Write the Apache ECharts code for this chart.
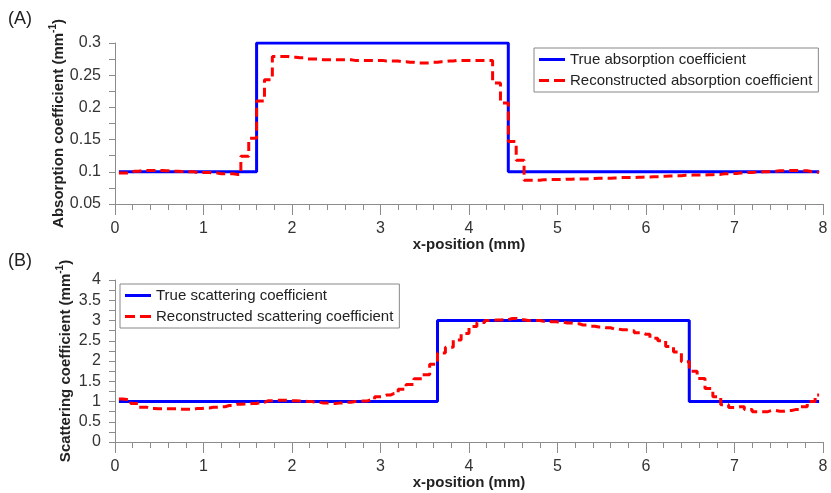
<!DOCTYPE html>
<html>
<head>
<meta charset="utf-8">
<script src="https://cdn.jsdelivr.net/npm/echarts@6/dist/echarts.min.js"></script>
<style>
  html, body { margin: 0; padding: 0; background: #fff; }
  #chart { width: 831px; height: 493px; }
</style>
</head>
<body>
<div id="chart"></div>
<script>
// true profiles (breakpoints, mm)
var trueAbsX = [0.044, 1.6, 1.6, 4.444, 4.444, 7.956];
var trueAbsY = [0.1, 0.1, 0.3, 0.3, 0.1, 0.1];
var trueScatX = [0.044, 3.644, 3.644, 6.489, 6.489, 7.956];
var trueScatY = [1, 1, 3, 3, 1, 1];

// reconstructed profiles, one value per cell (90 cells over 8 mm)
var reconAbs = [
    0.098, 0.098, 0.101, 0.102, 0.102, 0.102, 0.1015, 0.101, 0.1005, 0.100,
    0.099, 0.099, 0.098, 0.097, 0.097, 0.096, 0.124, 0.152, 0.210, 0.243,
    0.279, 0.279, 0.278, 0.277, 0.275, 0.275, 0.274, 0.274, 0.274, 0.274,
    0.273, 0.273, 0.273, 0.273, 0.272, 0.272, 0.271, 0.270, 0.269, 0.269,
    0.270, 0.271, 0.272, 0.273, 0.273, 0.273, 0.273, 0.273, 0.238, 0.207,
    0.147, 0.118, 0.087, 0.087, 0.0875, 0.088, 0.088, 0.0885, 0.089, 0.089,
    0.0895, 0.090, 0.090, 0.0905, 0.091, 0.091, 0.0915, 0.092, 0.0925, 0.093,
    0.0935, 0.094, 0.0945, 0.095, 0.095, 0.0955, 0.096, 0.097, 0.0975, 0.098,
    0.099, 0.0995, 0.100, 0.101, 0.1015, 0.102, 0.102, 0.1015, 0.1005, 0.099
];
var reconScat = [
    1.06, 1.05, 0.95, 0.86, 0.83, 0.82, 0.82, 0.82, 0.81, 0.81,
    0.83, 0.84, 0.86, 0.87, 0.90, 0.93, 0.94, 0.95, 0.98, 1.02,
    1.03, 1.03, 1.02, 1.01, 1.00, 0.98, 0.96, 0.95, 0.96, 0.98,
    1.00, 1.01, 1.04, 1.12, 1.16, 1.20, 1.30, 1.42, 1.56, 1.66,
    1.92, 2.20, 2.34, 2.52, 2.68, 2.85, 2.95, 3.00, 3.01, 3.02,
    3.05, 3.02, 3.00, 3.00, 2.98, 2.97, 2.96, 2.94, 2.92, 2.89,
    2.86, 2.84, 2.82, 2.79, 2.77, 2.75, 2.70, 2.66, 2.56, 2.50,
    2.36, 2.22, 1.98, 1.75, 1.57, 1.32, 1.12, 0.92, 0.85, 0.87,
    0.80, 0.75, 0.75, 0.78, 0.76, 0.78, 0.80, 0.87, 1.00, 1.16
];
var cellWidth = 8 / 90;

function pairs(xs, ys) {
    return xs.map(function (x, i) { return [x, ys[i]]; });
}
function cells(vals) {
    return vals.map(function (v, i) { return [(i + 0.5) * cellWidth, v]; });
}

var chart = echarts.init(document.getElementById('chart'));

var axisGray = '#8c8c8c';
var labelColor = '#333';
// legend icons: solid bar and two dashes
var solidIcon = 'path://M0,0h26v3h-26z';
var dashIcon = 'path://M0,0h10v3h-10zM15,0h11v3h-11z';

function xAxisDef(gridIndex) {
    return {
        type: 'value',
        gridIndex: gridIndex,
        min: 0,
        max: 8,
        interval: 1,
        name: 'x-position (mm)',
        nameLocation: 'middle',
        nameGap: 33,
        nameMoveOverlap: false,
        nameTextStyle: { fontSize: 15, fontWeight: 'bold', color: '#222', fontFamily: 'Liberation Sans' },
        axisLine: { show: true, lineStyle: { color: axisGray, width: 1 } },
        axisTick: { show: true, length: 11, lineStyle: { color: axisGray } },
        minorTick: { show: true, splitNumber: 5, length: 6, lineStyle: { color: axisGray } },
        axisLabel: { fontSize: 16, color: labelColor, margin: 17, fontFamily: 'Liberation Sans' },
        splitLine: { show: false }
    };
}

function yAxisDef(gridIndex, min, max, interval, title, gap) {
    return {
        type: 'value',
        gridIndex: gridIndex,
        min: min,
        max: max,
        interval: interval,
        name: '{n|' + title + ' (mm}{s|-1}{n|)}',
        nameLocation: 'middle',
        nameGap: gap,
        nameRotate: 90,
        nameMoveOverlap: false,
        nameTextStyle: {
            rich: {
                n: { fontSize: 15, fontWeight: 'bold', color: '#222', fontFamily: 'Liberation Sans', lineHeight: 18, verticalAlign: 'bottom' },
                s: { fontSize: 10, fontWeight: 'bold', color: '#222', fontFamily: 'Liberation Sans', lineHeight: 10, verticalAlign: 'top' }
            }
        },
        axisLine: { show: true, lineStyle: { color: axisGray, width: 1 } },
        axisTick: { show: true, length: 6, lineStyle: { color: axisGray } },
        minorTick: { show: true, splitNumber: 2, length: 6, lineStyle: { color: axisGray } },
        axisLabel: { fontSize: 16, color: labelColor, margin: 14, fontFamily: 'Liberation Sans' },
        splitLine: { show: false }
    };
}

function legendDef(names, left, top) {
    return {
        data: [
            { name: names[0], icon: solidIcon },
            { name: names[1], icon: dashIcon }
        ],
        orient: 'vertical',
        left: left,
        top: top,
        padding: [4, 6, 4, 5],
        itemGap: 6,
        itemWidth: 26,
        itemHeight: 14,
        borderColor: '#888',
        borderWidth: 1,
        textStyle: { fontSize: 15, color: '#222', fontFamily: 'Liberation Sans' }
    };
}

var option = {
    animation: false,
    backgroundColor: '#fff',
    grid: [
        { left: 115, right: 8, top: 43, height: 161, outerBoundsMode: 'none' },
        { left: 115, right: 8, top: 280, height: 162, outerBoundsMode: 'none' }
    ],
    xAxis: [xAxisDef(0), xAxisDef(1)],
    yAxis: [
        yAxisDef(0, 0.05, 0.3, 0.05, 'Absorption coefficient', 49),
        yAxisDef(1, 0, 4, 0.5, 'Scattering coefficient', 42)
    ],
    legend: [
        legendDef(['True absorption coefficient', 'Reconstructed absorption coefficient'], 534, 48),
        legendDef(['True scattering coefficient', 'Reconstructed scattering coefficient'], 120, 284)
    ],
    graphic: [
        { type: 'text', left: 8, top: 10, style: { text: '(A)', fontSize: 18, fill: '#222', fontFamily: 'Liberation Sans' } },
        { type: 'text', left: 8, top: 252, style: { text: '(B)', fontSize: 18, fill: '#222', fontFamily: 'Liberation Sans' } }
    ],
    series: [
        {
            name: 'True absorption coefficient',
            type: 'line',
            xAxisIndex: 0,
            yAxisIndex: 0,
            symbol: 'none',
            data: pairs(trueAbsX, trueAbsY),
            lineStyle: { color: '#0000ff', width: 3 },
            itemStyle: { color: '#0000ff' }
        },
        {
            name: 'Reconstructed absorption coefficient',
            type: 'line',
            xAxisIndex: 0,
            yAxisIndex: 0,
            symbol: 'none',
            step: 'middle',
            data: cells(reconAbs),
            lineStyle: { color: '#ff0000', width: 3, type: [9, 5] },
            itemStyle: { color: '#ff0000' }
        },
        {
            name: 'True scattering coefficient',
            type: 'line',
            xAxisIndex: 1,
            yAxisIndex: 1,
            symbol: 'none',
            data: pairs(trueScatX, trueScatY),
            lineStyle: { color: '#0000ff', width: 3 },
            itemStyle: { color: '#0000ff' }
        },
        {
            name: 'Reconstructed scattering coefficient',
            type: 'line',
            xAxisIndex: 1,
            yAxisIndex: 1,
            symbol: 'none',
            step: 'middle',
            data: cells(reconScat),
            lineStyle: { color: '#ff0000', width: 3, type: [9, 5] },
            itemStyle: { color: '#ff0000' }
        }
    ]
};

chart.setOption(option);
</script>
</body>
</html>
